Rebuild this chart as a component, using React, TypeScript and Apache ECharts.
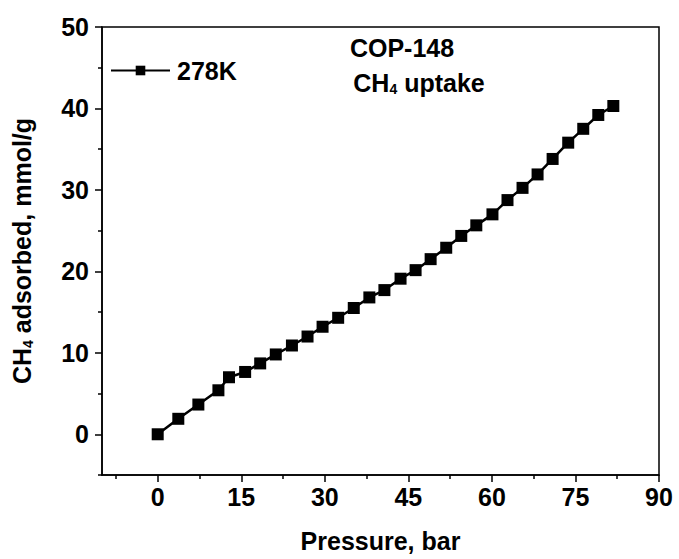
import React, { useEffect, useRef } from "react";
import * as echarts from "echarts";

const pressure = [0, 3.7, 7.3, 10.9, 12.8, 15.7, 18.4, 21.2, 24.1, 26.9, 29.6, 32.4, 35.2, 38.0, 40.7, 43.6, 46.3, 49.0, 51.8, 54.5, 57.2, 60.1, 62.8, 65.5, 68.2, 70.9, 73.7, 76.4, 79.1, 81.8];
const uptake = [0, 1.9, 3.65, 5.4, 7.0, 7.65, 8.7, 9.8, 10.9, 12.0, 13.2, 14.3, 15.5, 16.8, 17.7, 19.1, 20.15, 21.5, 22.9, 24.35, 25.65, 27.0, 28.75, 30.25, 31.9, 33.8, 35.8, 37.5, 39.2, 40.3];
const seriesName = "278K";
const titleLine1 = "COP-148";
const titleLine2 = "CH{sub|4} uptake";
const xMajorTicks = [0, 15, 30, 45, 60, 75, 90];
const xMinorTicks = [-7.5, 7.5, 22.5, 37.5, 52.5, 67.5, 82.5];
const yMajorTicks = [0, 10, 20, 30, 40, 50];
const yMinorTicks = [-5, 5, 15, 25, 35, 45];

const FONT = "'Liberation Sans', Arial, sans-serif";
const FS = 25;

export default function App() {
  const ref = useRef<HTMLDivElement>(null);
  useEffect(() => {
    if (!ref.current) return;
    const chart = echarts.init(ref.current, null, { renderer: "svg" });
    const data = pressure.map((p, i) => [p, uptake[i]]);
    const labelStyle = { fontFamily: FONT, fontSize: FS, fontWeight: "bold", color: "#000" };
    const subRich = {
      sub: { fontSize: 14, fontWeight: "bold", fontFamily: FONT, verticalAlign: "bottom", padding: [12, 0, 0, 0] },
    };
    chart.setOption({
      animation: false,
      backgroundColor: "#fff",
      textStyle: { fontFamily: FONT },
      grid: {
        left: 102,
        right: 20,
        top: 27,
        bottom: 84,
        show: true,
        borderColor: "#000",
        borderWidth: 1.5,
        backgroundColor: "transparent",
      },
      legend: {
        left: 110,
        top: 58,
        padding: 0,
        itemWidth: 59,
        itemHeight: 12,
        data: [seriesName],
        textStyle: { ...labelStyle, padding: [0, 0, 0, 2] },
      },
      graphic: [
        {
          type: "text",
          x: 402,
          y: 48,
          style: {
            text: titleLine1,
            align: "center",
            verticalAlign: "middle",
            fill: "#000",
            font: `bold ${FS}px ${FONT}`,
          },
        },
        {
          type: "text",
          x: 419,
          y: 83,
          style: {
            text: titleLine2,
            align: "center",
            verticalAlign: "middle",
            fill: "#000",
            font: `bold ${FS}px ${FONT}`,
            rich: subRich,
          },
        },
      ],
      xAxis: [
        {
          type: "value",
          min: -10,
          max: 90,
          name: "Pressure, bar",
          nameLocation: "middle",
          nameGap: 53,
          nameTextStyle: labelStyle,
          axisLine: { show: true, onZero: false, lineStyle: { color: "#000", width: 1.5 } },
          axisTick: { show: true, inside: false, length: 7, customValues: xMajorTicks, lineStyle: { color: "#000", width: 1.5 } },
          splitLine: { show: false },
          axisLabel: { ...labelStyle, margin: 9, customValues: xMajorTicks },
        },
        {
          type: "value",
          position: "bottom",
          min: -10,
          max: 90,
          axisLine: { show: false, onZero: false },
          axisTick: { show: true, inside: false, length: 4, customValues: xMinorTicks, lineStyle: { color: "#000", width: 1.5 } },
          splitLine: { show: false },
          axisLabel: { show: false },
        },
      ],
      yAxis: [
        {
          type: "value",
          min: -5,
          max: 50,
          name: "CH{sub|4} adsorbed, mmol/g",
          nameLocation: "middle",
          nameGap: 67,
          nameTextStyle: { ...labelStyle, rich: subRich },
          axisLine: { show: true, onZero: false, lineStyle: { color: "#000", width: 1.5 } },
          axisTick: { show: true, inside: false, length: 7, customValues: yMajorTicks, lineStyle: { color: "#000", width: 1.5 } },
          splitLine: { show: false },
          axisLabel: { ...labelStyle, margin: 13, customValues: yMajorTicks },
        },
        {
          type: "value",
          position: "left",
          min: -5,
          max: 50,
          axisLine: { show: false, onZero: false },
          axisTick: { show: true, inside: false, length: 4, customValues: yMinorTicks, lineStyle: { color: "#000", width: 1.5 } },
          splitLine: { show: false },
          axisLabel: { show: false },
        },
      ],
      series: [
        {
          name: seriesName,
          type: "line",
          xAxisIndex: 0,
          yAxisIndex: 0,
          data,
          symbol: "rect",
          symbolSize: 12,
          itemStyle: { color: "#000" },
          lineStyle: { color: "#000", width: 2.5 },
        },
      ],
    });
    return () => chart.dispose();
  }, []);
  return <div ref={ref} style={{ width: 679, height: 559, position: "absolute", left: 0, top: 0 }} />;
}
